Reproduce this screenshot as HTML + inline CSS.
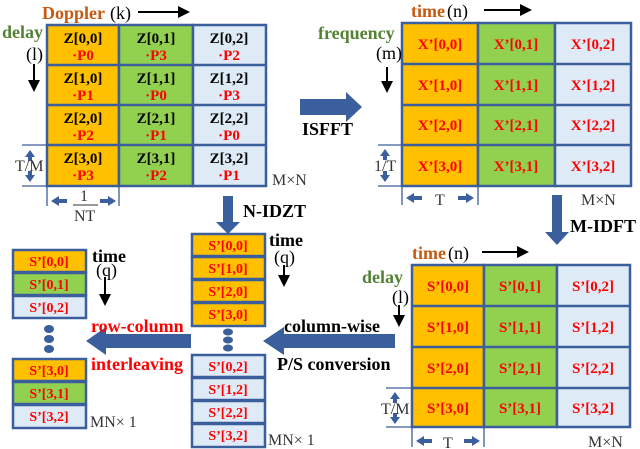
<!DOCTYPE html>
<html><head><style>body{margin:0;background:#fff}svg{display:block}text{font-family:"Liberation Serif",serif}</style></head><body>
<svg width="640" height="449" viewBox="0 0 640 449">
<defs>
<marker id="ah2" markerWidth="12" markerHeight="12" refX="10" refY="6" orient="auto" markerUnits="userSpaceOnUse"><path d="M0,0 L12,6 L0,12 Z" fill="#000"/></marker>
</defs>
<g stroke="#3B5E9C" stroke-width="2.5">
<rect x="47" y="25" width="72" height="161" fill="#FFC000"/><rect x="119" y="25" width="74" height="161" fill="#92D050"/><rect x="193" y="25" width="73" height="161" fill="#DEEBF7"/>
<line x1="47" y1="65" x2="266" y2="65"/><line x1="47" y1="105" x2="266" y2="105"/><line x1="47" y1="145" x2="266" y2="145"/>
<rect x="402" y="23" width="76" height="163" fill="#FFC000"/><rect x="478" y="23" width="77" height="163" fill="#92D050"/><rect x="555" y="23" width="76" height="163" fill="#DEEBF7"/>
<line x1="402" y1="64" x2="631" y2="64"/><line x1="402" y1="105" x2="631" y2="105"/><line x1="402" y1="145" x2="631" y2="145"/>
<rect x="412" y="265" width="72" height="162" fill="#FFC000"/><rect x="484" y="265" width="73" height="162" fill="#92D050"/><rect x="557" y="265" width="73" height="162" fill="#DEEBF7"/>
<line x1="412" y1="306" x2="630" y2="306"/><line x1="412" y1="347" x2="630" y2="347"/><line x1="412" y1="388" x2="630" y2="388"/>
<rect x="192" y="234" width="73" height="22" fill="#FFC000"/><rect x="192" y="257" width="73" height="22" fill="#FFC000"/><rect x="192" y="280" width="73" height="22" fill="#FFC000"/><rect x="192" y="303" width="73" height="23" fill="#FFC000"/>
<rect x="192" y="355" width="73" height="22" fill="#DEEBF7"/><rect x="192" y="378" width="73" height="22" fill="#DEEBF7"/><rect x="192" y="401" width="73" height="22" fill="#DEEBF7"/><rect x="192" y="424" width="73" height="23" fill="#DEEBF7"/>
<rect x="13" y="250" width="73" height="22" fill="#FFC000"/><rect x="13" y="273" width="73" height="22" fill="#92D050"/><rect x="13" y="296" width="73" height="22" fill="#DEEBF7"/>
<rect x="13" y="359" width="73" height="22" fill="#FFC000"/><rect x="13" y="382" width="73" height="22" fill="#92D050"/><rect x="13" y="405" width="73" height="23" fill="#DEEBF7"/>
</g>
<g fill="#3B5E9C">
<ellipse cx="228" cy="332" rx="5" ry="3.5"/><ellipse cx="228" cy="340" rx="5" ry="3.5"/><ellipse cx="228" cy="348" rx="5" ry="3.5"/>
<ellipse cx="49" cy="329" rx="5" ry="4"/><ellipse cx="49" cy="339" rx="5" ry="4"/><ellipse cx="49" cy="349" rx="5" ry="4"/>
<path d="M300,99 H346 V92 L362,107 L346,122 V115 H300 Z"/>
<path d="M223,196 H233 V222 H240 L228,234 L216,222 H223 Z"/>
<path d="M552,195 H562 V232 H569 L557,245 L545,232 H552 Z"/>
<path d="M395,334 H284 V327 L263,341 L284,355 V348 H395 Z"/>
<path d="M191,334 H106 V327 L86,341 L106,355 V348 H191 Z"/>
<path d="M30,150 l-5,7 h3 v4 h4 v-4 h3 z M30,182 l-5,-7 h3 v-4 h4 v4 h3 z"/>
<path d="M51,201 l8,-5 v3 h8 v4 h-8 v3 z M116,201 l-8,-5 v3 h-8 v4 h8 v3 z"/>
<path d="M385,149 l-5,7 h3 v4 h4 v-4 h3 z M385,182 l-5,-7 h3 v-4 h4 v4 h3 z"/>
<path d="M406,198 l8,-5 v3 h8 v4 h-8 v3 z M474,198 l-8,-5 v3 h-8 v4 h8 v3 z"/>
<path d="M395,392 l-5,7 h3 v4 h4 v-4 h3 z M395,424 l-5,-7 h3 v-4 h4 v4 h3 z"/>
<path d="M416,441 l8,-5 v3 h8 v4 h-8 v3 z M480,441 l-8,-5 v3 h-8 v4 h8 v3 z"/>
</g>
<g stroke="#3B5E9C" stroke-width="1.3">
<line x1="22" y1="145" x2="47" y2="145"/><line x1="22" y1="186" x2="47" y2="186"/>
<line x1="47" y1="186" x2="47" y2="206"/><line x1="119" y1="186" x2="119" y2="206"/>
<line x1="378" y1="145" x2="402" y2="145"/><line x1="378" y1="186" x2="402" y2="186"/>
<line x1="402" y1="186" x2="402" y2="205"/><line x1="478" y1="186" x2="478" y2="205"/>
<line x1="386" y1="388" x2="412" y2="388"/><line x1="386" y1="427" x2="412" y2="427"/>
<line x1="412" y1="427" x2="412" y2="447"/><line x1="484" y1="427" x2="484" y2="447"/>
</g>
<g stroke="#000" stroke-width="2">
<line x1="138" y1="12" x2="188" y2="12" marker-end="url(#ah2)"/>
<line x1="34" y1="64" x2="34" y2="90" marker-end="url(#ah2)"/>
<line x1="484" y1="10" x2="530" y2="10" marker-end="url(#ah2)"/>
<line x1="387" y1="67" x2="387" y2="91" marker-end="url(#ah2)"/>
<line x1="482" y1="252" x2="527" y2="252" marker-end="url(#ah2)"/>
<line x1="399" y1="305" x2="399" y2="325" marker-end="url(#ah2)"/>
<line x1="284" y1="265" x2="284" y2="285" marker-end="url(#ah2)"/>
<line x1="105" y1="277" x2="105" y2="304" marker-end="url(#ah2)"/>
</g>
<g font-weight="bold" font-size="18">
<text x="42" y="19" fill="#C55A11">Doppler</text>
<text x="2" y="38" fill="#548235">delay</text>
<text x="318" y="39" fill="#548235">frequency</text>
<text x="411" y="17" fill="#C55A11">time</text>
<text x="412" y="259" fill="#C55A11">time</text>
<text x="362" y="283" fill="#548235">delay</text>
<text x="269" y="246" fill="#000">time</text>
<text x="92" y="262" fill="#000">time</text>
<text x="302" y="135" fill="#000">ISFFT</text>
<text x="243" y="217" fill="#000">N-IDZT</text>
<text x="570" y="232" fill="#000">M-IDFT</text>
<text x="284" y="332" fill="#000">column-wise</text>
<text x="277" y="370" fill="#000">P/S conversion</text>
<text x="91" y="332" fill="#FF0000">row-column</text>
<text x="91" y="370" fill="#FF0000">interleaving</text>
</g>
<g font-size="18" fill="#000">
<text x="110" y="19">(k)</text><text x="26" y="60">(l)</text><text x="447" y="17">(n)</text><text x="376" y="59">(m)</text>
<text x="448" y="259">(n)</text><text x="392" y="303">(l)</text><text x="274" y="263">(q)</text><text x="96" y="276">(q)</text>
</g>
<g font-size="16" fill="#333">
<text x="15" y="171">T/M</text><text x="80" y="201">1</text><line x1="73" y1="205" x2="98" y2="205" stroke="#333"/><text x="74" y="221">NT</text>
<text x="272" y="185">M×N</text><text x="374" y="171">1/T</text><text x="435" y="205">T</text><text x="581" y="205">M×N</text>
<text x="381" y="414">T/M</text><text x="443" y="448">T</text><text x="588" y="447">M×N</text>
<text x="268" y="445">MN× 1</text><text x="90" y="427">MN× 1</text>
</g>
<g font-weight="bold" font-size="15" text-anchor="middle">
<g fill="#000"><text x="83" y="43">Z[0,0]</text><text x="156" y="43">Z[0,1]</text><text x="229" y="43">Z[0,2]</text>
<text x="83" y="83">Z[1,0]</text><text x="156" y="83">Z[1,1]</text><text x="229" y="83">Z[1,2]</text>
<text x="83" y="123">Z[2,0]</text><text x="156" y="123">Z[2,1]</text><text x="229" y="123">Z[2,2]</text>
<text x="83" y="163">Z[3,0]</text><text x="156" y="163">Z[3,1]</text><text x="229" y="163">Z[3,2]</text></g>
<g fill="#FF0000"><text x="83" y="60">·P0</text><text x="156" y="60">·P3</text><text x="229" y="60">·P2</text>
<text x="83" y="100">·P1</text><text x="156" y="100">·P0</text><text x="229" y="100">·P3</text>
<text x="83" y="140">·P2</text><text x="156" y="140">·P1</text><text x="229" y="140">·P0</text>
<text x="83" y="180">·P3</text><text x="156" y="180">·P2</text><text x="229" y="180">·P1</text>
<text x="440" y="49">X’[0,0]</text><text x="516" y="49">X’[0,1]</text><text x="593" y="49">X’[0,2]</text>
<text x="440" y="90">X’[1,0]</text><text x="516" y="90">X’[1,1]</text><text x="593" y="90">X’[1,2]</text>
<text x="440" y="130">X’[2,0]</text><text x="516" y="130">X’[2,1]</text><text x="593" y="130">X’[2,2]</text>
<text x="440" y="171">X’[3,0]</text><text x="516" y="171">X’[3,1]</text><text x="593" y="171">X’[3,2]</text>
<text x="448" y="291">S’[0,0]</text><text x="520" y="291">S’[0,1]</text><text x="593" y="291">S’[0,2]</text>
<text x="448" y="332">S’[1,0]</text><text x="520" y="332">S’[1,1]</text><text x="593" y="332">S’[1,2]</text>
<text x="448" y="373">S’[2,0]</text><text x="520" y="373">S’[2,1]</text><text x="593" y="373">S’[2,2]</text>
<text x="448" y="413">S’[3,0]</text><text x="520" y="413">S’[3,1]</text><text x="593" y="413">S’[3,2]</text></g>
</g>
<g font-weight="bold" font-size="14" text-anchor="middle" fill="#FF0000">
<text x="228" y="250">S’[0,0]</text><text x="228" y="273">S’[1,0]</text><text x="228" y="296">S’[2,0]</text><text x="228" y="319">S’[3,0]</text>
<text x="228" y="371">S’[0,2]</text><text x="228" y="394">S’[1,2]</text><text x="228" y="417">S’[2,2]</text><text x="228" y="440">S’[3,2]</text>
<text x="49" y="266">S’[0,0]</text><text x="49" y="289">S’[0,1]</text><text x="49" y="312">S’[0,2]</text>
<text x="49" y="375">S’[3,0]</text><text x="49" y="398">S’[3,1]</text><text x="49" y="421">S’[3,2]</text>
</g>
</svg>
</body></html>
